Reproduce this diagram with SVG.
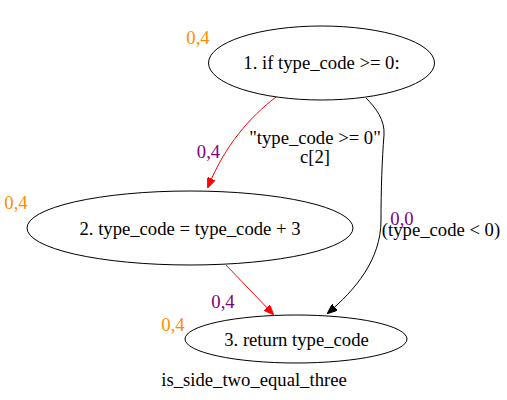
<svg xmlns="http://www.w3.org/2000/svg" width="507" height="400" viewBox="0 0 507 400">
<defs>
<marker id="ar" markerWidth="10" markerHeight="8" refX="9" refY="4" orient="auto" markerUnits="userSpaceOnUse"><path d="M0,0 L10,4 L0,8 Z" fill="red" stroke="red"/></marker>
<marker id="ab" markerWidth="10" markerHeight="8" refX="9" refY="4" orient="auto" markerUnits="userSpaceOnUse"><path d="M0,0 L10,4 L0,8 Z" fill="black" stroke="black"/></marker>
</defs>
<style>
text{font-family:"Liberation Serif","Times New Roman",serif;font-size:18.67px;text-anchor:middle}
.n{fill:none;stroke:black;stroke-width:1}
.o{fill:#ff8c00}
.p{fill:#800080}
.e{fill:none;stroke-width:1}
</style>
<rect width="507" height="400" fill="white"/>
<g id="edges">
<path class="e" stroke="red" d="M276,97 C250,117 225,145 208,187" marker-end="url(#ar)"/>
<text class="p" x="208.5" y="158">0,4</text>
<text x="315" y="144">"type_code &gt;= 0"</text>
<text x="315" y="163">c[2]</text>
<path class="e" stroke="black" d="M366,98 C376,108 385,120 384,135 C382,160 381,190 381,220 C381,260 355,290 328,313" marker-end="url(#ab)"/>
<text class="p" x="402" y="225">0,0</text>
<text x="441" y="236">(type_code &lt; 0)</text>
<path class="e" stroke="red" d="M226,265 L273,314" marker-end="url(#ar)"/>
<text class="p" x="223" y="308">0,4</text>
</g>
<g id="node1">
<ellipse class="n" cx="321.5" cy="63" rx="113" ry="37"/>
<text x="321.5" y="69">1. if type_code &gt;= 0:</text>
<text class="o" x="198" y="44">0,4</text>
</g>
<g id="node2">
<ellipse class="n" cx="190" cy="228" rx="163" ry="37"/>
<text x="190" y="235">2. type_code = type_code + 3</text>
<text class="o" x="16" y="209">0,4</text>
</g>
<g id="node3">
<ellipse class="n" cx="296" cy="339" rx="111" ry="24"/>
<text x="296.5" y="346">3. return type_code</text>
<text class="o" x="173" y="331">0,4</text>
</g>
<text x="254" y="386">is_side_two_equal_three</text>
</svg>
